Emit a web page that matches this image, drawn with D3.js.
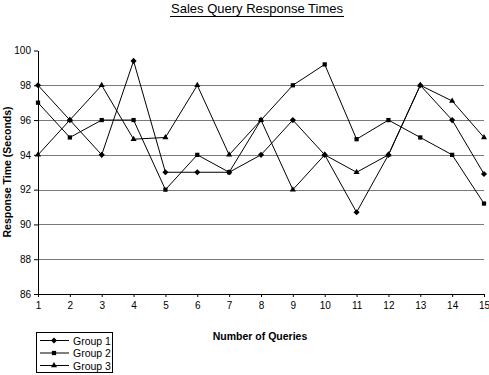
<!DOCTYPE html>
<html>
<head>
<meta charset="utf-8">
<script src="https://cdn.jsdelivr.net/npm/d3@7"></script>
<style>
	body { margin: 0; background: #fff; }
	text { font-family: "Liberation Sans", Arial, sans-serif; }
</style>
</head>
<body>
<div id="chart"></div>
<script>
var queries = [1, 2, 3, 4, 5, 6, 7, 8, 9, 10, 11, 12, 13, 14, 15];
var group1 = [98, 96, 94, 99.4, 93, 93, 93, 94, 96, 94, 90.7, 94, 98, 96, 92.9];
var group2 = [97, 95, 96, 96, 92, 94, 93, 96, 98, 99.2, 94.9, 96, 95, 94, 91.2];
var group3 = [94, 96, 98, 94.9, 95, 98, 94, 96, 92, 94, 93, 94, 98, 97.1, 95];
var seriesNames = ["Group 1", "Group 2", "Group 3"];
var yTicks = [86, 88, 90, 92, 94, 96, 98, 100];
var gridTicks = [88, 90, 92, 94, 96, 98];

var chartWidth = 489, chartHeight = 375;
var plotLeft = 38, plotRight = 484, plotTop = 50.5, plotBottom = 294;

var svg = d3.select("#chart").append("svg")
	.attr("width", chartWidth)
	.attr("height", chartHeight);

var x = d3.scaleLinear().domain([1, 15]).range([plotLeft, plotRight]);
var y = d3.scaleLinear().domain([86, 100]).range([plotBottom, plotTop]);

var symbols = [d3.symbolDiamond2 || d3.symbolDiamond, d3.symbolSquare, d3.symbolTriangle];
var symbolSizes = [24, 18, 16];

// title with underline
var title = svg.append("text")
	.attr("x", 257)
	.attr("y", 13)
	.attr("text-anchor", "middle")
	.attr("font-size", 13)
	.text("Sales Query Response Times");
var tw = title.node().getComputedTextLength();
svg.append("line")
	.attr("x1", 257 - tw / 2 - 1).attr("x2", 257 + tw / 2 + 1)
	.attr("y1", 16.5).attr("y2", 16.5)
	.attr("stroke", "#000").attr("stroke-width", 1);

// gridlines
svg.append("g").selectAll("line")
	.data(gridTicks)
	.enter().append("line")
	.attr("x1", plotLeft).attr("x2", plotRight)
	.attr("y1", function(d) { return Math.round(y(d)) + 0.5; })
	.attr("y2", function(d) { return Math.round(y(d)) + 0.5; })
	.attr("stroke", "#7a7a7a")
	.attr("stroke-width", 1.2);

// axes
var yAxis = svg.append("g")
	.attr("transform", "translate(" + plotLeft + ",0)")
	.call(d3.axisLeft(y).tickValues(yTicks).tickSize(4).tickSizeOuter(0).tickPadding(3));
var xAxis = svg.append("g")
	.attr("transform", "translate(0," + plotBottom + ")")
	.call(d3.axisBottom(x).tickValues(queries).tickSize(3).tickSizeOuter(0).tickPadding(5));
[yAxis, xAxis].forEach(function(a) {
	a.selectAll("text").attr("font-size", 10).attr("fill", "#000")
		.attr("font-family", "\"Liberation Sans\", Arial, sans-serif");
	a.selectAll("line").attr("stroke", "#000");
	a.select(".domain").attr("stroke", "#000");
});

// axis titles
svg.append("text")
	.attr("transform", "translate(11,172) rotate(-90)")
	.attr("text-anchor", "middle")
	.attr("font-size", 10.5)
	.attr("font-weight", "bold")
	.text("Response Time (Seconds)");
svg.append("text")
	.attr("x", 260)
	.attr("y", 340)
	.attr("text-anchor", "middle")
	.attr("font-size", 10.5)
	.attr("font-weight", "bold")
	.text("Number of Queries");

// series
var data = [group1, group2, group3];
var line = d3.line()
	.x(function(d, i) { return x(queries[i]); })
	.y(function(d) { return y(d); });

data.forEach(function(values, k) {
	var g = svg.append("g").attr("class", "series");
	g.append("path")
		.attr("d", line(values))
		.attr("fill", "none")
		.attr("stroke", "#000")
		.attr("stroke-width", 1);
	g.selectAll("path.marker")
		.data(values)
		.enter().append("path")
		.attr("class", "marker")
		.attr("d", d3.symbol().type(symbols[k]).size(symbolSizes[k]))
		.attr("transform", function(d, i) { return "translate(" + x(queries[i]) + "," + y(d) + ")"; })
		.attr("fill", "#000");
});

// legend
var legend = svg.append("g").attr("transform", "translate(36,332)");
legend.append("rect")
	.attr("x", 0.5).attr("y", 0.5)
	.attr("width", 76).attr("height", 40)
	.attr("fill", "#fff")
	.attr("stroke", "#000");
var item = legend.selectAll("g.item")
	.data(seriesNames)
	.enter().append("g")
	.attr("class", "item")
	.attr("transform", function(d, i) { return "translate(0," + (8.5 + i * 12.5) + ")"; });
item.append("line")
	.attr("x1", 4).attr("x2", 33)
	.attr("stroke", "#000");
item.append("path")
	.attr("d", function(d, i) { return d3.symbol().type(symbols[i]).size(symbolSizes[i])(); })
	.attr("transform", "translate(18,0)")
	.attr("fill", "#000");
item.append("text")
	.attr("x", 37)
	.attr("y", 4)
	.attr("font-size", 10.5)
	.text(function(d) { return d; });
</script>
</body>
</html>
